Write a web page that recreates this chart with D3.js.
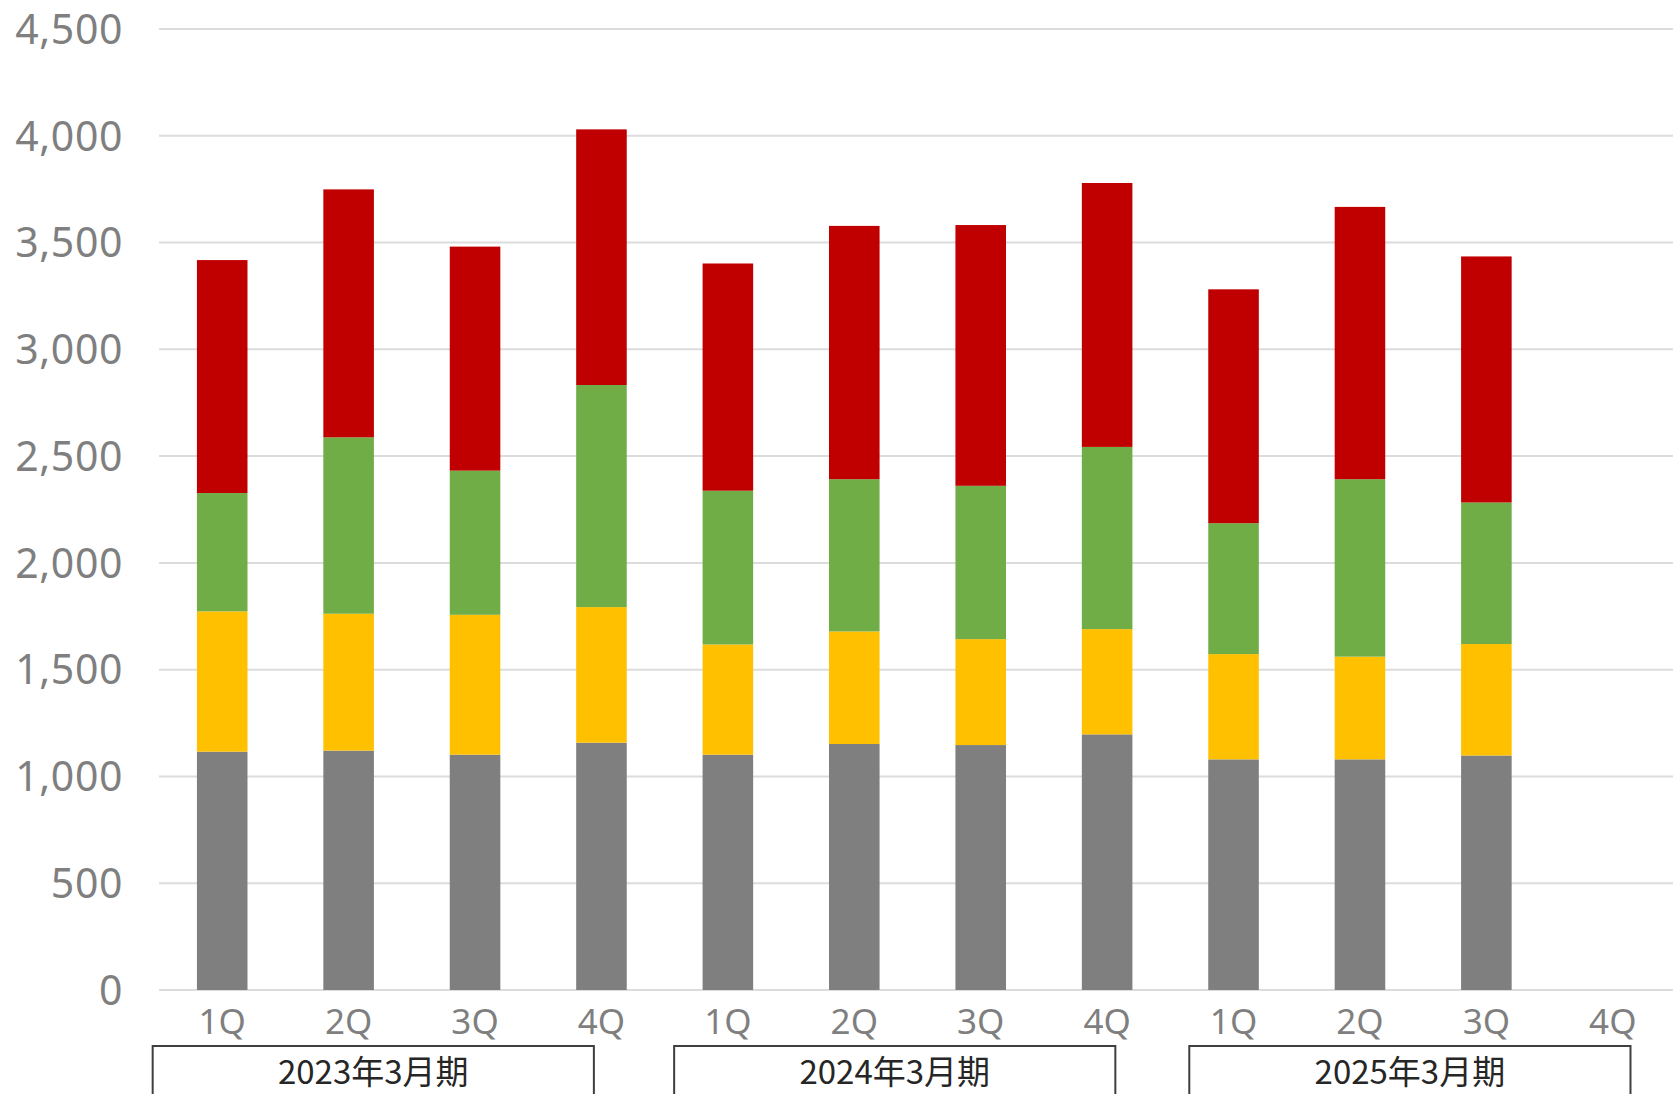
<!DOCTYPE html>
<html>
<head>
<meta charset="utf-8">
<script src="https://cdn.jsdelivr.net/npm/d3@7"></script>
<style>
    html, body { margin: 0; padding: 0; background: #fff; }
    svg { display: block; }
</style>
</head>
<body>
<svg id="chart" width="1673" height="1094"></svg>
<script>
// quarters on the x axis (12 slots, last one is empty)
const quarters = ["1Q", "2Q", "3Q", "4Q", "1Q", "2Q", "3Q", "4Q", "1Q", "2Q", "3Q", "4Q"];
const periods = ["2023年3月期", "2024年3月期", "2025年3月期"];

// series, bottom to top
const grayVals   = [1116, 1121, 1102, 1158, 1102, 1152, 1147, 1197, 1080, 1080, 1098, null];
const yellowVals = [657, 641, 655, 635, 516, 527, 496, 493, 493, 481, 522, null];
const greenVals  = [554, 826, 675, 1040, 720, 713, 718, 853, 613, 831, 663, null];
const redVals    = [1091, 1161, 1049, 1197, 1064, 1186, 1221, 1236, 1095, 1275, 1152, null];

const yTicks = [0, 500, 1000, 1500, 2000, 2500, 3000, 3500, 4000, 4500];

document.addEventListener("DOMContentLoaded", () => {
    const svg = d3.select("#chart");

    const left = 159, right = 1676, top = 29, bottom = 990;

    const keys = ["gray", "yellow", "green", "red"];
    const colors = { gray: "#7f7f7f", yellow: "#ffc000", green: "#70ad47", red: "#c00000" };

    const rows = quarters.map((q, i) => ({
        idx: i,
        gray: grayVals[i] || 0,
        yellow: yellowVals[i] || 0,
        green: greenVals[i] || 0,
        red: redVals[i] || 0
    }));

    const x = d3.scaleBand()
        .domain(d3.range(quarters.length))
        .range([left, right])
        .paddingInner(0.6)
        .paddingOuter(0.3);

    const y = d3.scaleLinear().domain([0, 4500]).range([bottom, top]);

    // gridlines
    svg.append("g")
        .selectAll("line")
        .data(yTicks)
        .join("line")
        .attr("x1", left)
        .attr("x2", 1673)
        .attr("y1", d => y(d))
        .attr("y2", d => y(d))
        .attr("stroke", "#dcdcdc")
        .attr("stroke-width", 2);

    // y labels
    svg.append("g")
        .selectAll("text")
        .data(yTicks)
        .join("text")
        .attr("x", 123)
        .attr("y", d => y(d))
        .attr("dy", "0.36em")
        .attr("text-anchor", "end")
        .attr("font-family", "'Noto Sans', sans-serif")
        .attr("font-size", 41)
        .attr("letter-spacing", 0.6)
        .attr("fill", "#7f7f7f")
        .text(d => d3.format(",")(d));

    // stacked bars
    const stacked = d3.stack().keys(keys)(rows);

    svg.append("g")
        .selectAll("g")
        .data(stacked)
        .join("g")
        .attr("fill", d => colors[d.key])
        .selectAll("rect")
        .data(d => d.filter(s => s[1] > s[0]))
        .join("rect")
        .attr("x", d => x(d.data.idx))
        .attr("width", x.bandwidth())
        .attr("y", d => y(d[1]))
        .attr("height", d => y(d[0]) - y(d[1]));

    // quarter labels
    svg.append("g")
        .selectAll("text")
        .data(quarters)
        .join("text")
        .attr("x", (d, i) => x(i) + x.bandwidth() / 2)
        .attr("y", 1034)
        .attr("text-anchor", "middle")
        .attr("font-family", "'Noto Sans', sans-serif")
        .attr("font-size", 35)
        .attr("fill", "#7f7f7f")
        .text(d => d);

    // fiscal year boxes, edges given in band steps from the first band start
    const boxFrom = [-0.05, 4.075, 8.15];
    const boxTo = [3.44, 7.565, 11.64];
    const step = x.step();
    const bx = v => left + v * step;

    const box = svg.append("g")
        .selectAll("g")
        .data(periods)
        .join("g");

    box.append("rect")
        .attr("x", (d, i) => bx(boxFrom[i]))
        .attr("y", 1046)
        .attr("width", (d, i) => bx(boxTo[i]) - bx(boxFrom[i]))
        .attr("height", 80)
        .attr("fill", "none")
        .attr("stroke", "#3f3f3f")
        .attr("stroke-width", 2);

    box.append("text")
        .attr("x", (d, i) => (bx(boxFrom[i]) + bx(boxTo[i])) / 2)
        .attr("y", 1084)
        .attr("text-anchor", "middle")
        .attr("font-family", "'Noto Sans CJK JP', sans-serif")
        .attr("font-size", 33)
        .attr("fill", "#262626")
        .text(d => d);
});
</script>
</body>
</html>
